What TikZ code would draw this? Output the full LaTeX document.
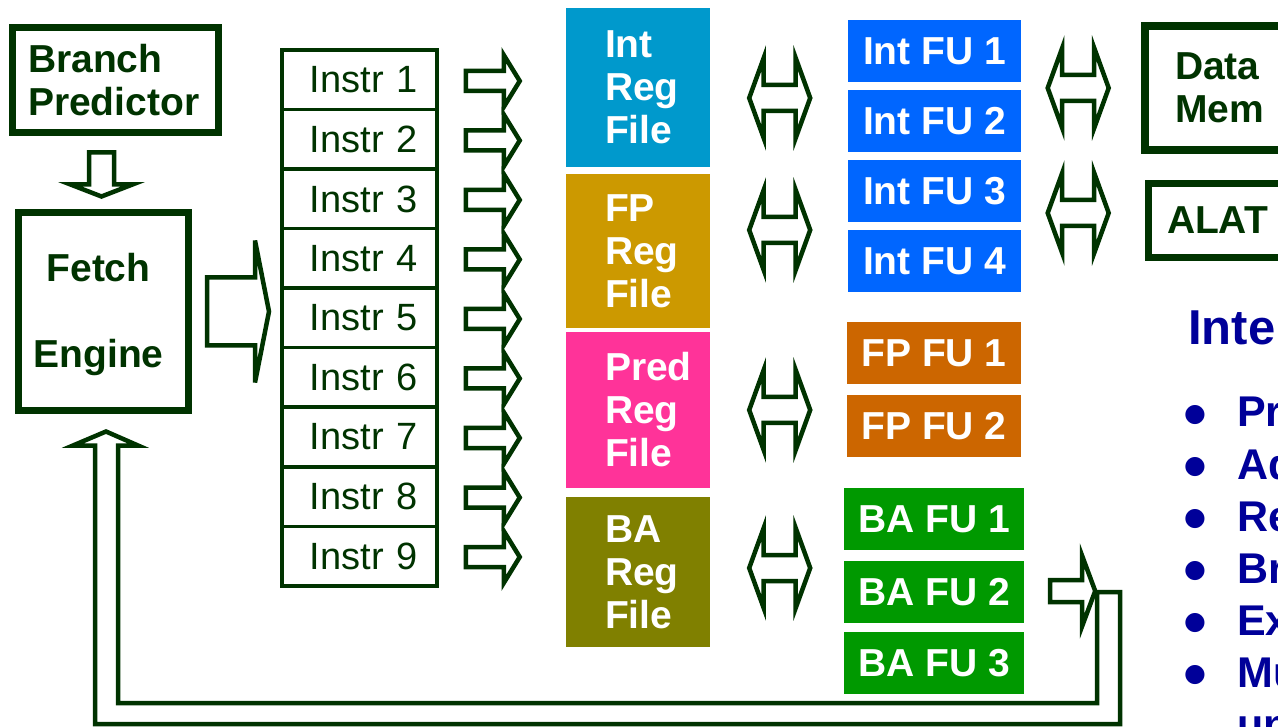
\documentclass[tikz,border=0pt]{standalone}
\usepackage{fontspec}
\setmainfont{Liberation Sans}
\newfontfamily\symfont{DejaVu Sans}
\usetikzlibrary{calc}

\definecolor{dkgreen}{HTML}{003300}
\definecolor{intreg}{HTML}{0099CC}
\definecolor{fpreg}{HTML}{CC9900}
\definecolor{predreg}{HTML}{FF3399}
\definecolor{bareg}{HTML}{808000}
\definecolor{intfu}{HTML}{0066FF}
\definecolor{fpfu}{HTML}{CC6600}
\definecolor{bafu}{HTML}{009900}
\definecolor{featblue}{HTML}{000099}

\tikzset{
  every node/.style={inner sep=0pt, font=\bfseries\fontsize{39}{43}\selectfont},
  box/.style={draw=dkgreen, line width=7pt, text=dkgreen},
  instr/.style={draw=dkgreen, line width=3.5pt, text=dkgreen, minimum width=155,
    minimum height=59.5, text width=116, align=right, font=\fontsize{38}{43}\selectfont},
  regfile/.style={text=white, minimum width=144, text width=66, align=left},
  fu/.style={text=white, minimum height=62},
  feat/.style={text=featblue, font=\bfseries\fontsize{43}{52}\selectfont},
  bullet/.style={text=featblue, font=\symfont\fontsize{25}{28}\selectfont},
  hollow/.style={draw=dkgreen, line width=4.5pt, line join=miter},
  pics/instrarrow/.style={code={
    \draw[hollow] (0,-10) -- (38,-10) -- (38,-26) -- (54,0) -- (38,26) -- (38,10) -- (0,10) -- cycle;}},
  pics/fetcharrow/.style={code={
    \draw[hollow] (0,-34) -- (48,-34) -- (48,-71) -- (62,0) -- (48,71) -- (48,34) -- (0,34) -- cycle;}},
  pics/downarrow/.style={code={
    \draw[hollow] (-12.5,0) -- (-12.5,32) -- (-31,32) -- (0,44) -- (31,32) -- (12.5,32) -- (12.5,0) -- cycle;}},
  pics/outarrow/.style={code={
    \draw[hollow] (0,-11) -- (32,-11) -- (32,-35) -- (45,0) -- (32,35) -- (32,11) -- (0,11) -- cycle;}},
  pics/dblarrow/.style={code={
    \draw[hollow] (-30.5,0) -- (-16,-40) -- (-16,-13) -- (16,-13) -- (16,-40) -- (30.5,0)
      -- (16,40) -- (16,13) -- (-16,13) -- (-16,40) -- cycle;}},
}

\begin{document}
\begin{tikzpicture}[x=1pt, y=-1pt]
  \useasboundingbox (0,0) rectangle (1278,727);
  \clip (0,0) rectangle (1278,727);

  %% front end
  \node[box, minimum width=206, minimum height=105, text width=175, align=left]
    (bp) at (115.5,80) {Branch\\Predictor};
  \node[box, minimum width=170, minimum height=198] (fetch) at (103.5,311.5) {};
  \node[text=dkgreen, align=center] (fetchtxt) at (98.5,315) {Fetch\\[43pt]Engine};
  \pic at ($(bp.south)+(-14,16.5)$) {downarrow};
  \pic at ($(fetch.east)+(15,0)$) {fetcharrow};

  %% instruction buffer
  \foreach \n in {1,...,9}
    \node[instr] (i\n) at (359.5,80+59.5*\n-59.5) {Instr \n};
  \foreach \n in {1,...,9}
    \pic at ($(i\n.east)+(27,1)$) {instrarrow};

  %% register files
  \node[regfile, fill=intreg, minimum height=159] (intreg) at (638,87.5) {Int\\Reg\\File};
  \node[regfile, fill=fpreg, minimum height=154] (fpreg) at (638,251) {FP\\Reg\\File};
  \node[regfile, fill=predreg, minimum height=156] (predreg) at (638,410) {Pred\\Reg\\File};
  \node[regfile, fill=bareg, minimum height=150] (bareg) at (638,572) {BA\\Reg\\File};

  \pic at ($(intreg.east)+(69.5,10.5)$) {dblarrow};
  \pic at ($(fpreg.east)+(69.5,-21)$) {dblarrow};
  \pic at ($(predreg.east)+(69.5,0)$) {dblarrow};
  \pic at ($(bareg.east)+(69.5,-4)$) {dblarrow};

  %% functional units
  \foreach \n in {1,...,4}
    \node[fu, fill=intfu, minimum width=173] (int\n) at (934.5,51+70*\n-70) {Int FU \n};
  \node[fu, fill=fpfu, minimum width=174] (fp1) at (934,353) {FP FU 1};
  \node[fu, fill=fpfu, minimum width=174] (fp2) at (934,426) {FP FU 2};
  \node[fu, fill=bafu, minimum width=180] (ba1) at (934,519) {BA FU 1};
  \node[fu, fill=bafu, minimum width=180] (ba2) at (934,592) {BA FU 2};
  \node[fu, fill=bafu, minimum width=180] (ba3) at (934,663) {BA FU 3};

  %% memory side
  \node[box, line width=8pt, anchor=west, minimum width=160, minimum height=124,
    text width=100, align=left] (mem) at (1141,88) {Data\\Mem};
  \node[box, anchor=west, minimum width=150, minimum height=74, text width=112,
    align=left] (alat) at (1144.5,220.5) {ALAT};
  \pic at ($(int1.east)+(57,37)$) {dblarrow};
  \pic at ($(int3.east)+(57,22)$) {dblarrow};

  %% branch feedback
  \pic at ($(ba2.east)+(26,-1)$) {outarrow};
  \coordinate (fbout) at ($(ba2.east)+(73,0)$);
  \coordinate (fbin) at ($(fetch.south)+(2.5,17.5)$);
  \draw[hollow] (fbout) -- ++(23,0) |- (95,724) |- ($(fbin)+(-33,14)$) -- (fbin)
    -- ($(fbin)+(32,14)$) -| (118,703) -| (fbout);

  %% features
  \node[text=featblue, font=\bfseries\fontsize{49}{56}\selectfont, anchor=base west]
    (title) at (1188,345) {Intel Itanium};
  \foreach \t [count=\k] in {Predication, Advanced loads, Register stack,
      Branch hints, Explicit parallelism, Multiple functional} {
    \node[bullet, anchor=base] (b\k) at (1195,421+52*\k-52) {●};
    \node[feat, anchor=base west] (f\k) at (1237,427+52*\k-52) {\t};
  }
  \node[feat, anchor=base west] (f7) at (1237,739) {units};
\end{tikzpicture}
\end{document}
